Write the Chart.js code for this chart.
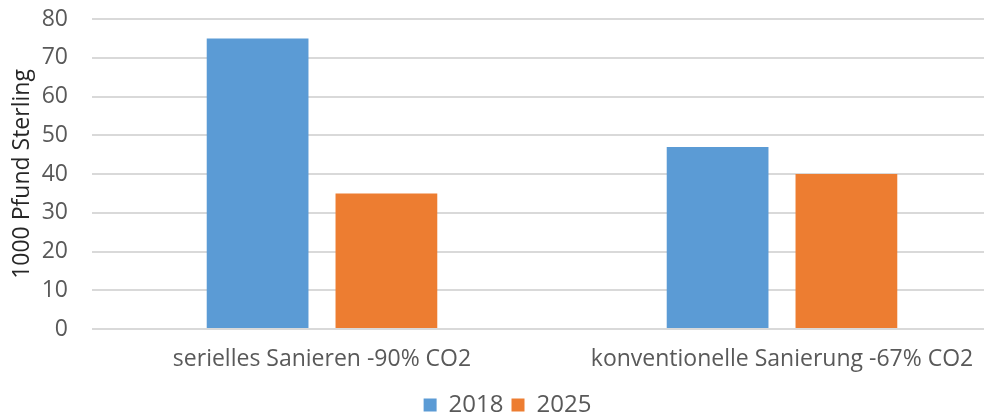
<!DOCTYPE html>
<html>
<head>
<meta charset="utf-8">
<script src="https://cdn.jsdelivr.net/npm/chart.js@4"></script>
<style>
  html, body { margin: 0; padding: 0; background: #fff; overflow: hidden; }
  .item { width: 1012px; height: 419px; }
</style>
</head>
<body>
<div class="item">
  <canvas id="myChart" width="1012" height="419"></canvas>
</div>
<script>
const categories = ['serielles Sanieren -90% CO2', 'konventionelle Sanierung -67% CO2'];
const values2018 = [75, 47];
const values2025 = [35, 40];
const yTicks = [0, 10, 20, 30, 40, 50, 60, 70, 80];

const textColor = '#595959';
const fontFamily = '"Open Sans", sans-serif';

const ctx = document.getElementById('myChart');
new Chart(ctx, {
  type: 'bar',
  data: {
    labels: categories,
    datasets: [
      {
        label: '2018',
        data: values2018,
        backgroundColor: '#5B9BD5',
        categoryPercentage: 0.56,
        barPercentage: 0.79
      },
      {
        label: '2025',
        data: values2025,
        backgroundColor: '#ED7D31',
        categoryPercentage: 0.56,
        barPercentage: 0.79
      }
    ]
  },
  options: {
    responsive: false,
    animation: false,
    layout: { padding: { top: 0, left: 3, right: 0, bottom: -8 } },
    plugins: {
      legend: {
        position: 'bottom',
        labels: {
          color: textColor,
          font: { family: fontFamily, size: 24 },
          boxWidth: 13,
          boxHeight: 13,
          padding: 8
        }
      },
      tooltip: { enabled: false }
    },
    scales: {
      x: {
        grid: { display: false },
        border: { display: false },
        afterFit: axis => { axis.height = 56; },
        ticks: {
          color: textColor,
          font: { family: fontFamily, size: 23 },
          padding: 9
        }
      },
      y: {
        min: 0,
        max: 80,
        afterBuildTicks: axis => { axis.ticks = yTicks.map(v => ({ value: v })); },
        // keep the plot area where the original has it
        afterFit: axis => { axis.width = 89; axis.paddingTop = 19; },
        grid: { color: '#d9d9d9', lineWidth: 2, drawTicks: false },
        border: { display: false },
        ticks: {
          color: textColor,
          font: { family: fontFamily, size: 23 },
          padding: 24
        },
        title: {
          display: true,
          text: '1000 Pfund Sterling',
          color: '#262626',
          font: { family: fontFamily, size: 23 },
          padding: 6
        }
      }
    }
  }
});
</script>
</body>
</html>
